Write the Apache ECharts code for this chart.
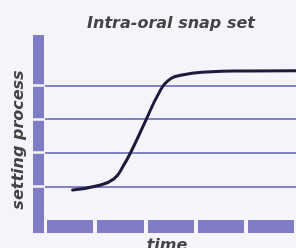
<!DOCTYPE html>
<html><head><meta charset="utf-8">
<script src="https://cdn.jsdelivr.net/npm/echarts@6/dist/echarts.min.js"></script>
<style>html,body{margin:0;padding:0;background:#f4f4fa;}#c{width:296px;height:248px;}</style>
</head><body><div id="c"></div>
<script>
// Data: time in "segment" units, setting process level
const timeVals = [0.55, 1.02, 1.37, 1.56, 1.76, 2.01, 2.25, 2.44, 2.73, 3.22, 4.00, 5.00];
const setVals  = [0.89, 1.01, 1.22, 1.61, 2.17, 2.97, 3.72, 4.13, 4.31, 4.40, 4.43, 4.44];
const yTicks = [0, 1, 2, 3, 4, 5, 5.5];
const titleText = 'Intra-oral snap set';
const xLabel = 'time';
const yLabel = 'setting process';

const BG = '#f4f4fa', BAR = '#7e7bc7', GRID = '#8483c4', CURVE = '#1c1b3d';
const T = 'rgba(0,0,0,0)';
const gridColors = yTicks.map(v => (v >= 1 && v <= 4) ? GRID : T);
const gapColors = yTicks.map(v => (v >= 1 && v <= 4) ? BG : T);
const font = 'DejaVu Sans';
const txt = {fontFamily: font, fontStyle: 'italic', fontWeight: 'bold', fontSize: 16};

const chart = echarts.init(document.getElementById('c'), null, {renderer: 'canvas'});
chart.setOption({
  backgroundColor: BG,
  animation: false,
  title: {text: titleText, left: 166, top: 11, textAlign: 'center',
    textStyle: Object.assign({color: '#444'}, txt)},
  graphic: [
    {type: 'text', x: 19, y: 140, rotation: Math.PI / 2,
      style: Object.assign({text: yLabel, fill: '#444', textAlign: 'center', textVerticalAlign: 'middle'}, txt)},
    {type: 'text', x: 167, y: 246,
      style: Object.assign({text: xLabel, fill: '#444', textAlign: 'center', textVerticalAlign: 'middle'}, txt)}
  ],
  grid: [
    {left: 45, right: -5, top: 35, bottom: 28},
    {left: 33, width: 11, top: 35, bottom: 28, show: true, backgroundColor: BAR, borderWidth: 0},
    {left: 45, right: -5, top: 220, bottom: 15, show: true, backgroundColor: BAR, borderWidth: 0}
  ],
  xAxis: [
    {gridIndex: 0, type: 'value', min: 0, max: 5, interval: 1, axisLine: {show: false}, axisTick: {show: false}, axisLabel: {show: false}, splitLine: {show: false}},
    {gridIndex: 1, type: 'value', min: 0, max: 1, offset: 6.5, axisLine: {show: true, onZero: false, symbol: 'none', lineStyle: {color: BAR, width: 13, cap: 'butt'}}, axisTick: {show: false}, axisLabel: {show: false}, splitLine: {show: false}},
    {gridIndex: 2, type: 'value', min: 0, max: 5, interval: 1, axisLine: {show: false}, axisTick: {show: false}, axisLabel: {show: false},
      splitLine: {show: true, lineStyle: {color: BG, width: 4}}}
  ],
  yAxis: [
    {gridIndex: 0, type: 'value', min: 0, max: 5.5, interval: 1, axisLine: {show: false}, axisTick: {show: false}, axisLabel: {show: false},
      splitLine: {show: true, lineStyle: {color: gridColors, width: 2}}},
    {gridIndex: 1, type: 'value', min: 0, max: 5.5, interval: 1, axisLine: {show: false}, axisTick: {show: false}, axisLabel: {show: false},
      splitLine: {show: true, lineStyle: {color: gapColors, width: 2.5}}},
    {gridIndex: 2, type: 'value', min: 0, max: 1, axisLine: {show: false}, axisTick: {show: false}, axisLabel: {show: false}, splitLine: {show: false}}
  ],
  series: [{
    type: 'line', xAxisIndex: 0, yAxisIndex: 0,
    data: timeVals.map((t, i) => [t, setVals[i]]),
    smooth: 0.5, symbol: 'none',
    lineStyle: {color: CURVE, width: 3, cap: 'round'}
  }]
});
</script></body></html>
